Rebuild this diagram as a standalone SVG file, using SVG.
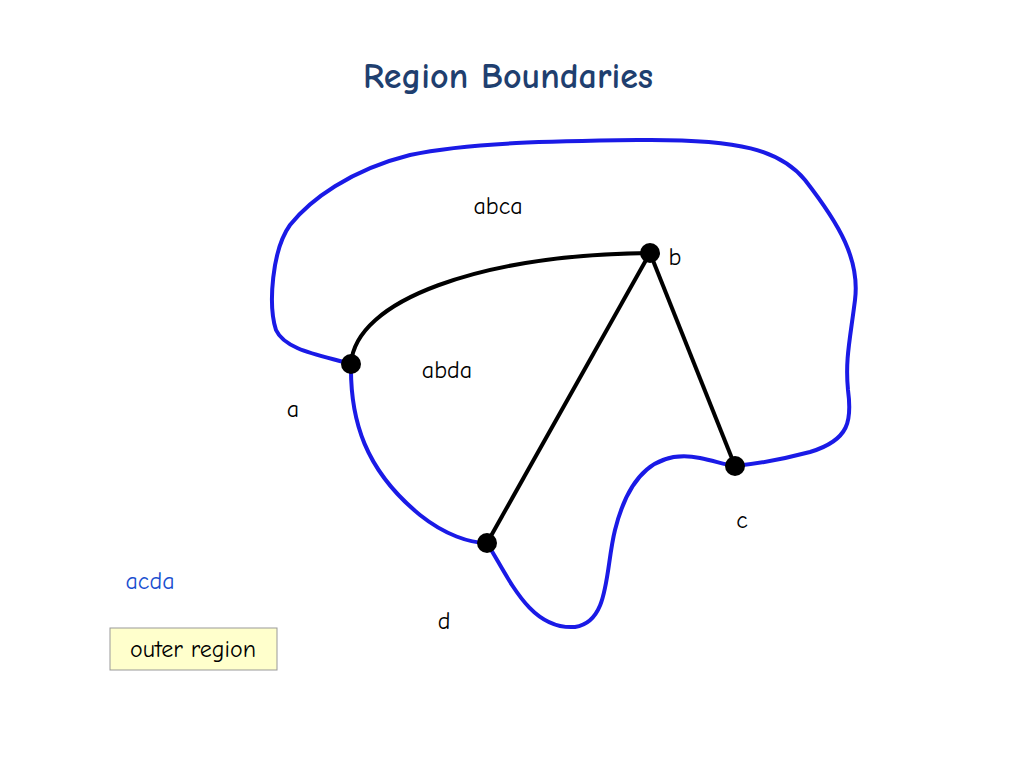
<svg xmlns="http://www.w3.org/2000/svg" width="1024" height="768" viewBox="0 0 1024 768">
<style>
text{font-family:"Comic Neue","DejaVu Sans",sans-serif;font-size:24px;fill:#000}
.blue{fill:none;stroke:#1a1ae6;stroke-width:4}
.blk{fill:none;stroke:#000;stroke-width:4}
.node{fill:#000}
</style>
<rect width="1024" height="768" fill="#fff"/>
<text x="508" y="88" text-anchor="middle" style="font-size:36px;font-weight:bold;fill:#1f3f6f">Region Boundaries</text>
<g id="connectors">
<path class="blue" d="M351,364 C320,355 285,350 276,330 C268,305 272,250 290,225 C310,200 350,170 410,155 C470,142 560,141 640,140 C740,139 780,150 805,180 C840,225 860,260 855,300 C850,340 845,360 848,390 C852,420 850,440 810,452 C780,460 755,464 735,466"/>
<path class="blue" d="M351,364 C350,420 365,470 420,515 C445,535 470,543 487,543"/>
<path class="blue" d="M487,543 C510,580 530,630 575,627 C610,622 605,570 615,530 C630,470 660,450 700,458 C715,461 725,465 735,466"/>
<path class="blk" d="M351,364 C355,300 480,255 650,253"/>
<line class="blk" x1="650" y1="253" x2="487" y2="543"/>
<line class="blk" x1="650" y1="253" x2="735" y2="466"/>
</g>
<g id="a"><circle class="node" cx="351" cy="364" r="10"/><text x="293" y="417" text-anchor="middle">a</text></g>
<g id="b"><circle class="node" cx="650" cy="253" r="10"/><text x="675" y="265" text-anchor="middle">b</text></g>
<g id="c"><circle class="node" cx="735" cy="466" r="10"/><text x="742" y="528" text-anchor="middle">c</text></g>
<g id="d"><circle class="node" cx="487" cy="543" r="10"/><text x="444" y="629" text-anchor="middle">d</text></g>
<g id="labels">
<text x="498" y="214" text-anchor="middle">abca</text>
<text x="447" y="378" text-anchor="middle">abda</text>
<text x="150" y="589" text-anchor="middle" style="fill:#1a4fd0">acda</text>
</g>
<g id="outer">
<rect x="110" y="628" width="167" height="42" fill="#ffffcc" stroke="#999" stroke-width="1"/>
<text x="193" y="657" text-anchor="middle">outer region</text>
</g>
</svg>
